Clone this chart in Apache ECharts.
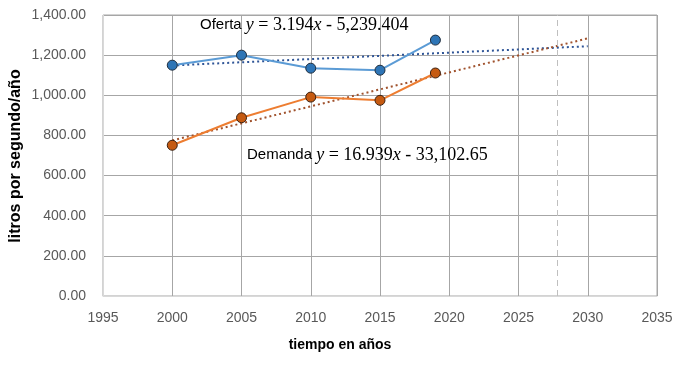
<!DOCTYPE html>
<html>
<head>
<meta charset="utf-8">
<script src="https://cdn.jsdelivr.net/npm/echarts@6/dist/echarts.min.js"></script>
<style>html,body{margin:0;padding:0;background:#fff;}#c{width:683px;height:368px;}</style>
</head>
<body>
<div id="c"></div>
<script>
const years = [2000, 2005, 2010, 2015, 2019];
const oferta = [1150, 1200, 1135, 1125, 1275];
const demanda = [751, 888, 991, 975, 1111];
// trend lines (endpoints from the equations shown on the chart)
const ofertaTrend = [[2000, 1148.6], [2030, 1244.4]];
const demandaTrend = [[2000, 775.4], [2030, 1283.5]];
const cutYear = 2027.8;
const ofertaLabel = ['Oferta ', '3.194', '5,239.404'];
const demandaLabel = ['Demanda ', '16.939', '33,102.65'];

function fmt(v) {
  const s = v.toFixed(2);
  const [i, d] = s.split('.');
  return i.replace(/\B(?=(\d{3})+(?!\d))/g, ',') + '.' + d;
}
const pairs = (xs, ys) => xs.map((x, i) => [x, ys[i]]);

const chart = echarts.init(document.getElementById('c'), null, {renderer: 'canvas'});
const rich = {
  a: {fontFamily: 'Liberation Sans, Arial', fontSize: 15, color: '#000'},
  b: {fontFamily: 'Liberation Serif, Times New Roman', fontStyle: 'italic', fontSize: 18, color: '#000'},
  c: {fontFamily: 'Liberation Serif, Times New Roman', fontSize: 18, color: '#000'}
};
function lbl(p) {
  return '{a|' + p[0] + '}{b|y}{c| = ' + p[1] + '}{b|x}{c| - ' + p[2] + '}';
}
chart.setOption({
  animation: false,
  grid: {left: 103, right: 26, top: 15, bottom: 72, containLabel: false,
         show: true, borderColor: '#a6a6a6', borderWidth: 1},
  xAxis: {
    type: 'value', min: 1995, max: 2035, interval: 5,
    axisLine: {show: true, lineStyle: {color: '#d9d9d9'}},
    axisTick: {show: false},
    axisLabel: {color: '#595959', fontSize: 14, fontFamily: 'Liberation Sans, Arial', margin: 15,
                formatter: v => String(v)},
    splitLine: {show: true, lineStyle: {color: '#a6a6a6', width: 1}}
  },
  yAxis: {
    type: 'value', min: 0, max: 1400, interval: 200,
    axisLine: {show: true, lineStyle: {color: '#d9d9d9'}},
    axisTick: {show: false},
    axisLabel: {color: '#595959', fontSize: 14, fontFamily: 'Liberation Sans, Arial', margin: 17,
                formatter: fmt},
    splitLine: {show: true, lineStyle: {color: '#a6a6a6', width: 1}}
  },
  graphic: [
    {type: 'text', left: 200, top: 16, z: 100, style: {text: lbl(ofertaLabel), rich: rich}},
    {type: 'text', left: 247, top: 146, z: 100, style: {text: lbl(demandaLabel), rich: rich}},
    {type: 'text', x: 340, y: 345, z: 100,
     style: {text: 'tiempo en años', font: 'bold 14px Liberation Sans, Arial', fill: '#000',
             textAlign: 'center', textVerticalAlign: 'middle'}},
    {type: 'text', x: 16, y: 156, rotation: Math.PI / 2, z: 100,
     style: {text: 'litros por segundo/año', font: 'bold 16px Liberation Sans, Arial', fill: '#000',
             textAlign: 'center', textVerticalAlign: 'middle'}}
  ],
  series: [
    {
      name: 'cut', type: 'line', data: [], silent: true,
      markLine: {
        symbol: 'none', silent: true, label: {show: false},
        lineStyle: {color: '#bfbfbf', type: [6, 4], width: 1},
        data: [{xAxis: cutYear}]
      }
    },
    {
      name: 'Oferta', type: 'line', data: pairs(years, oferta), z: 5,
      lineStyle: {color: '#5b9bd5', width: 2},
      symbol: 'circle', symbolSize: 10,
      itemStyle: {color: '#2e75b6', borderColor: '#1f2d3d', borderWidth: 1}
    },
    {
      name: 'Demanda', type: 'line', data: pairs(years, demanda), z: 5,
      lineStyle: {color: '#ed7d31', width: 2},
      symbol: 'circle', symbolSize: 10,
      itemStyle: {color: '#c55a11', borderColor: '#3a2010', borderWidth: 1}
    },
    {
      name: 'Oferta trend', type: 'line', data: ofertaTrend, z: 4, showSymbol: false, symbol: 'none',
      lineStyle: {color: '#2f5597', width: 2, type: [2, 3]}
    },
    {
      name: 'Demanda trend', type: 'line', data: demandaTrend, z: 4, showSymbol: false, symbol: 'none',
      lineStyle: {color: '#a0522d', width: 2, type: [2, 3]}
    }
  ]
});
</script>
</body>
</html>
